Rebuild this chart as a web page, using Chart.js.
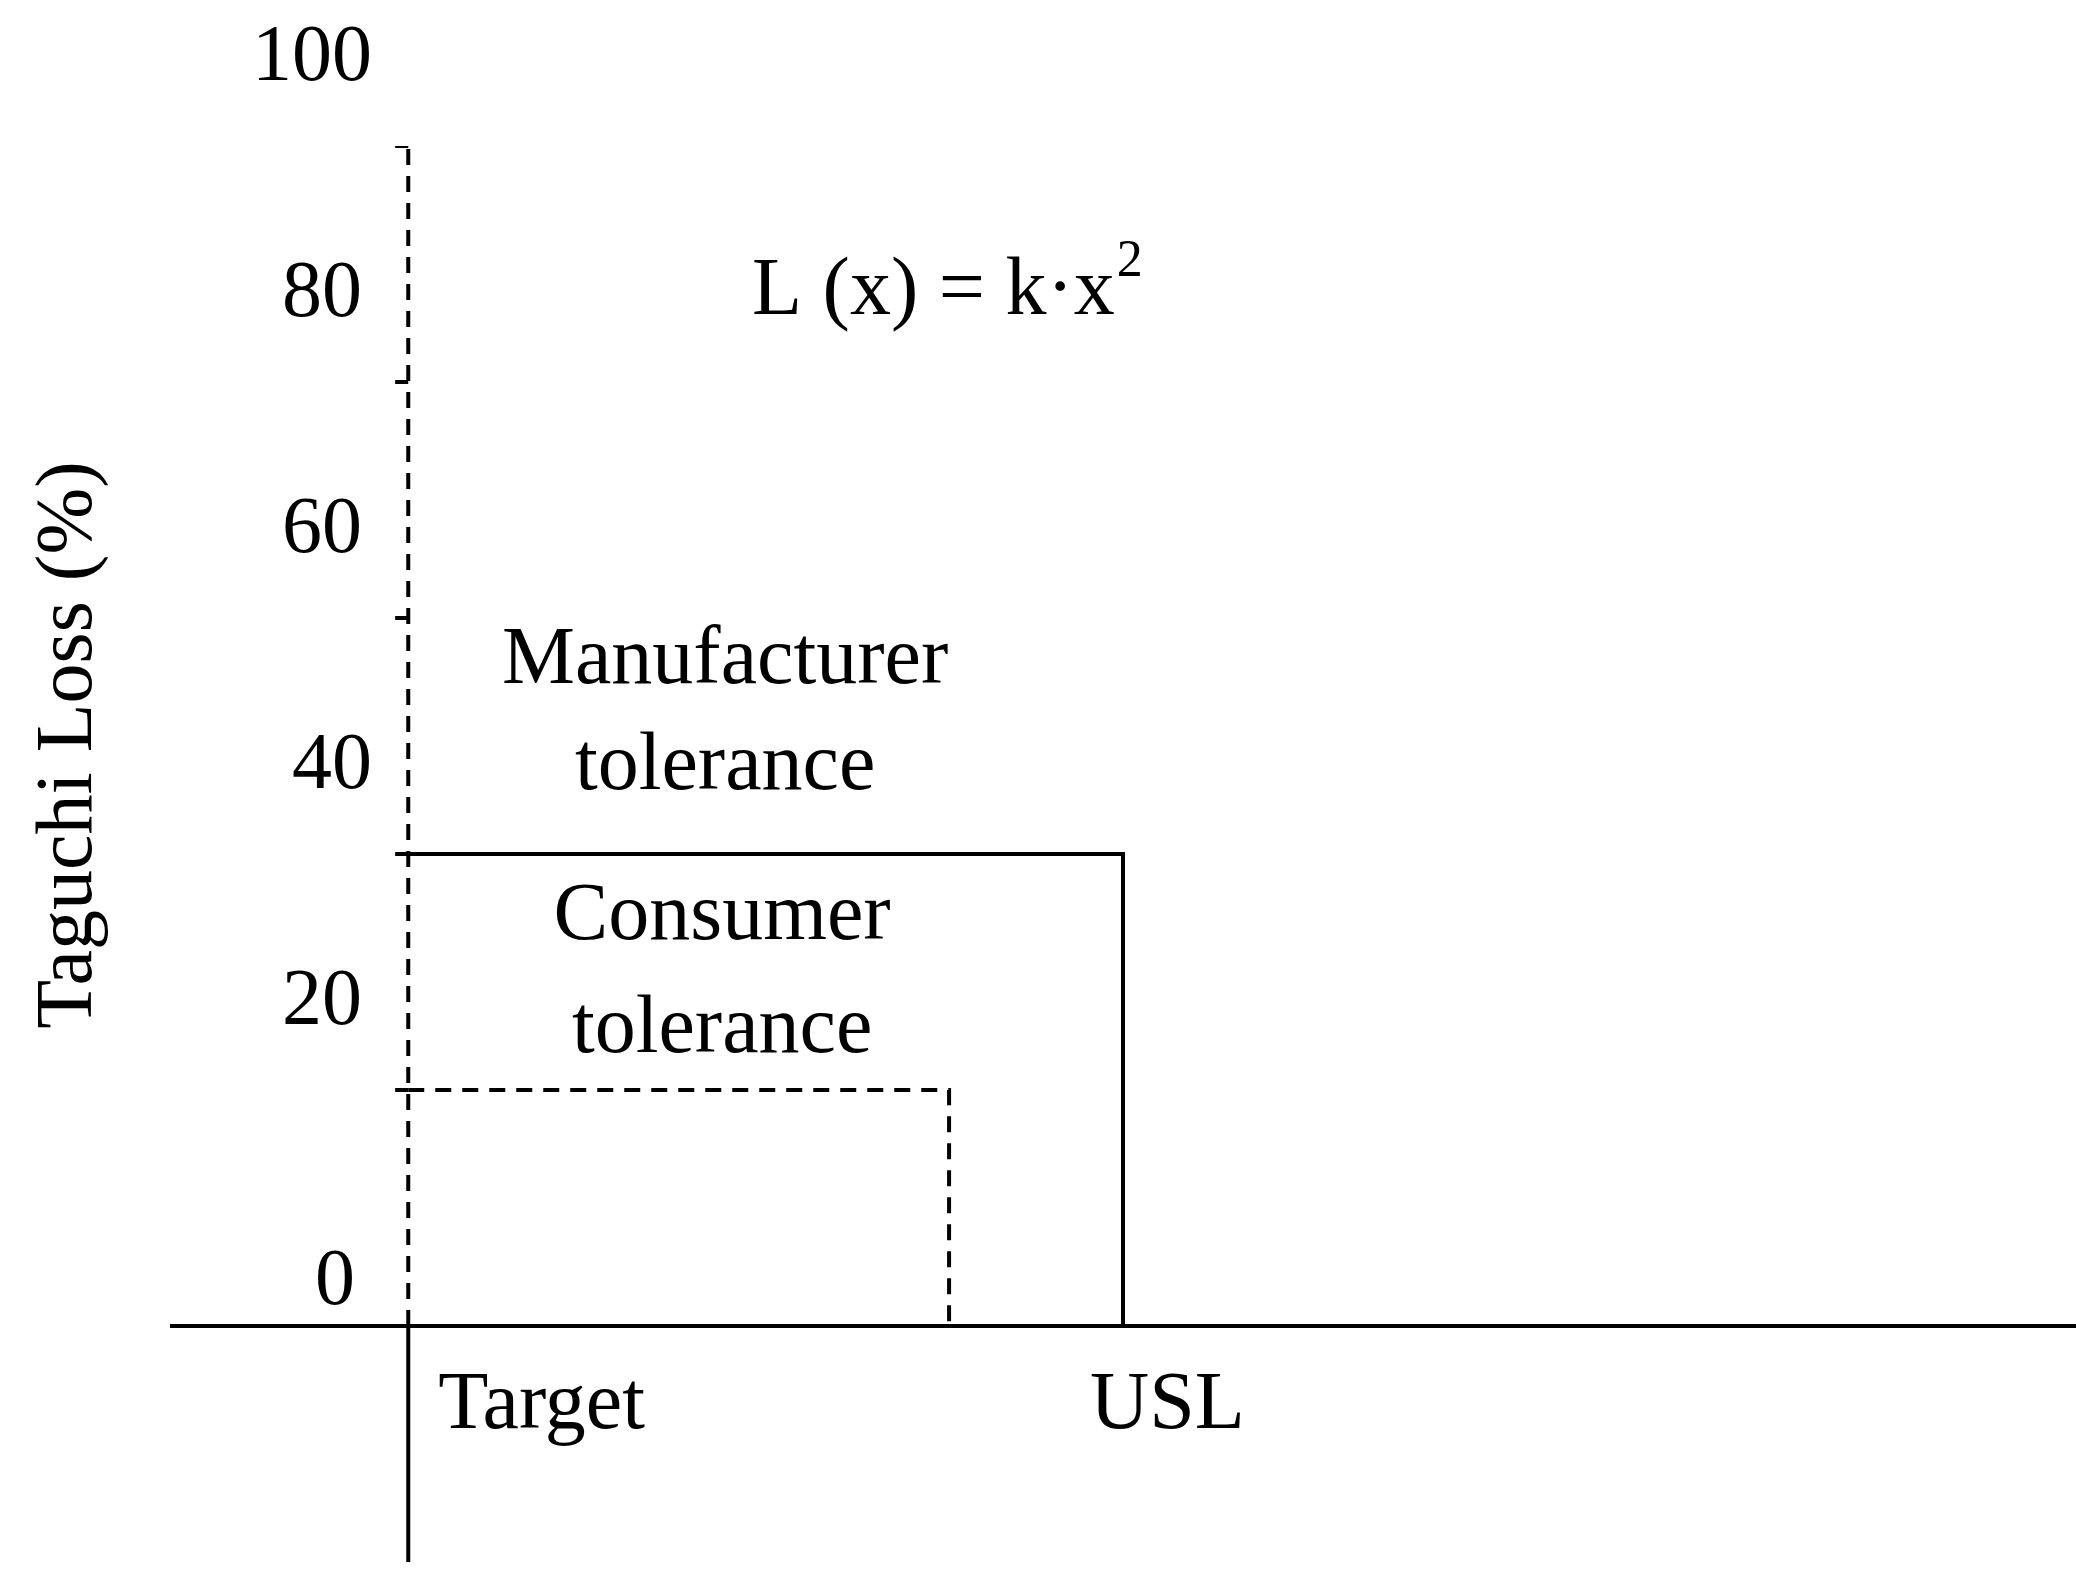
<!DOCTYPE html>
<html><head><meta charset="utf-8">
<script src="https://cdn.jsdelivr.net/npm/chart.js@4/dist/chart.umd.min.js"></script>
<style>html,body{margin:0;background:#fff}#w{width:2076px;height:1578px}</style>
</head><body><div id="w"><canvas id="c"></canvas></div>
<script>
const yTicks=[0,20,40,60,80,100];
const tickMarks=[20,40,60,80,100];
const target=0, usl=3, consumerLimit=2.27;
const manufacturerLoss=40, consumerLoss=20;
const xRange=[-1,7], yRange=[-20,100];
const F='"Liberation Serif","DejaVu Serif",serif';
const col='#000';
function seg(pts,dash){return {data:pts.map(p=>({x:p[0],y:p[1]})),borderColor:col,borderWidth:4,borderDash:dash||[],pointRadius:0,showLine:true,fill:false};}
const ds=[
 seg([[xRange[0],0],[xRange[1],0]]),
 seg([[target,yRange[0]],[target,0]]),
 seg([[target,0],[target,100]],[16,11]),
 seg([[target,manufacturerLoss],[usl,manufacturerLoss],[usl,0]]),
 seg([[target,consumerLoss],[consumerLimit,consumerLoss],[consumerLimit,0]],[16,11]),
 ...tickMarks.map(v=>seg([[-0.055,v],[target,v]]))
];
const labels={id:'lab',afterDraw(ch){
 const c=ch.ctx,x=ch.scales.x,y=ch.scales.y;c.save();c.fillStyle=col;c.textBaseline='middle';
 c.font='80px '+F;c.textAlign='right';
 const xr={0:355,20:362,40:372,60:362,80:362,100:372};
 yTicks.forEach(v=>{const off=v===0?-43:-87;c.fillText(String(v),xr[v],y.getPixelForValue(v)+off);});
 c.font='82px '+F;c.textAlign='center';
 const mx=x.getPixelForValue(1.33);
 c.fillText('Manufacturer',mx,661);c.fillText('tolerance',mx,767);
 c.fillText('Consumer',mx-3,917);c.fillText('tolerance',mx-3,1030);
 c.textAlign='left';
 c.fillText('Target',x.getPixelForValue(target)+30,1406);
 c.fillText('USL',x.getPixelForValue(usl)-33,1406);
 const s='L (x) = k·x';c.fillText(s,752,292);const w=c.measureText(s).width;
 c.font='52px '+F;c.fillText('2',752+w+2,262);
 c.font='80px '+F;c.translate(70,745);c.rotate(-Math.PI/2);c.textAlign='center';
 c.fillText('Taguchi Loss (%)',0,0);
 c.restore();}};
new Chart(document.getElementById('c'),{type:'scatter',data:{datasets:ds},
 options:{responsive:true,maintainAspectRatio:false,animation:false,
 layout:{padding:{left:170,right:0,top:146,bottom:16}},
 plugins:{legend:{display:false},tooltip:{enabled:false}},
 scales:{x:{type:'linear',min:xRange[0],max:xRange[1],display:false},
 y:{type:'linear',min:yRange[0],max:yRange[1],display:false}}},
 plugins:[labels]});
</script></body></html>
